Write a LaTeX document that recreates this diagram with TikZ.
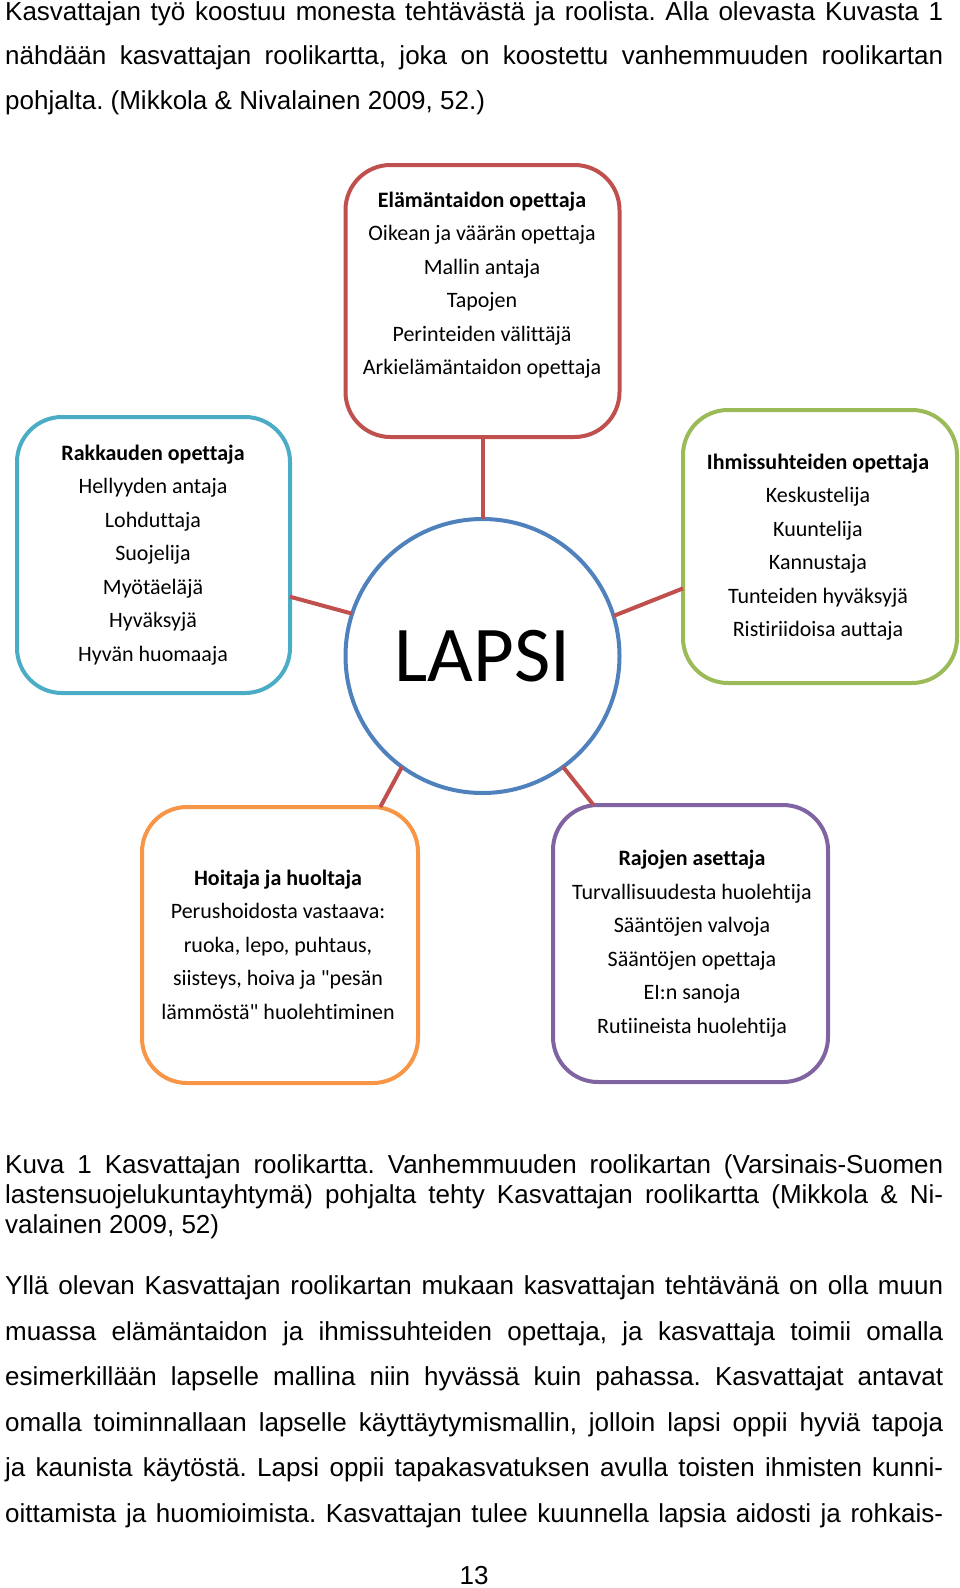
\documentclass[tikz,border=0pt]{standalone}
\usepackage{fontspec}
\setmainfont{Liberation Sans}
\newfontfamily\boxfont[Ligatures=NoCommon]{Carlito}
\definecolor{cred}{HTML}{C0504D}
\definecolor{cblue}{HTML}{4F81BD}
\definecolor{caqua}{HTML}{4BACC6}
\definecolor{cgreen}{HTML}{9BBB59}
\definecolor{corange}{HTML}{F79646}
\definecolor{cpurple}{HTML}{8064A2}
\newcommand{\jline}[1]{\makebox[938pt][s]{#1}}
\frenchspacing
\begin{document}
\begin{tikzpicture}[x=1pt,y=-1pt,
  rolebox/.style={draw, line width=4pt, rounded corners=45pt, inner sep=0pt, outer sep=0pt},
  roletext/.style={font=\boxfont\fontsize{22}{33.5}\selectfont, align=center, inner sep=0pt},
  conn/.style={draw=cred, line width=4pt},
  para/.style={anchor=base west, inner sep=0pt, font=\fontsize{26}{30}\selectfont}]
\useasboundingbox (0,0) rectangle (960,1588);
\fill[white] (0,0) rectangle (960,1588);

% boxes
\node[rolebox, draw=cred, minimum width=274pt, minimum height=272pt] (T) at (482.5,301) {};
\node[rolebox, draw=caqua, minimum width=273pt, minimum height=276pt] (L) at (153.5,555) {};
\node[rolebox, draw=cgreen, minimum width=274pt, minimum height=273pt] (R) at (820,546.5) {};
\node[rolebox, draw=corange, minimum width=276pt, minimum height=276pt] (BL) at (280,945) {};
\node[rolebox, draw=cpurple, minimum width=275pt, minimum height=277pt] (BR) at (690.5,943.5) {};
\node[circle, draw=cblue, line width=4pt, minimum size=274pt, inner sep=0pt, outer sep=0pt,
      font=\boxfont\fontsize{79}{90}\selectfont] (C) at (482.5,656) {LAPSI};

% connectors
\draw[conn] (T.south) -- (C.north);
\draw[conn] (C.162.7) -- (L.-17.9);
\draw[conn] (C.17.6) -- (R.197.4);
\draw[conn] (C.234.6) -- (BL.54.9);
\draw[conn] (C.306) -- (BR.125.8);

% box texts
\node[roletext] (Tt) at (482,285) {\textbf{Elämäntaidon opettaja}\\Oikean ja väärän opettaja\\Mallin antaja\\Tapojen\\Perinteiden välittäjä\\Arkielämäntaidon opettaja};
\node[roletext] (Lt) at (153,555) {\textbf{Rakkauden opettaja}\\Hellyyden antaja\\Lohduttaja\\Suojelija\\Myötäeläjä\\Hyväksyjä\\Hyvän huomaaja};
\node[roletext] (Rt) at (818,547) {\textbf{Ihmissuhteiden opettaja}\\Keskustelija\\Kuuntelija\\Kannustaja\\Tunteiden hyväksyjä\\Ristiriidoisa auttaja};
\node[roletext] (BLt) at (278,944.5) {\textbf{Hoitaja ja huoltaja}\\Perushoidosta vastaava:\\ruoka, lepo, puhtaus,\\siisteys, hoiva ja "pesän\\lämmöstä" huolehtiminen};
\node[roletext] (BRt) at (692,943.5) {\textbf{Rajojen asettaja}\\Turvallisuudesta huolehtija\\Sääntöjen valvoja\\Sääntöjen opettaja\\EI:n sanoja\\Rutiineista huolehtija};

% page text
\node[para] (a1) at (5,20) {\jline{Kasvattajan työ koostuu monesta tehtävästä ja roolista. Alla olevasta Kuvasta 1}};
\node[para] (a2) at (5,64.5) {\jline{nähdään kasvattajan roolikartta, joka on koostettu vanhemmuuden roolikartan}};
\node[para] (a3) at (5,109) {pohjalta. (Mikkola \& Nivalainen 2009, 52.)};

\node[para] (k1) at (5,1173) {\jline{Kuva 1 Kasvattajan roolikartta. Vanhemmuuden roolikartan (Varsinais-Suomen}};
\node[para] (k2) at (5,1203) {\jline{lastensuojelukuntayhtymä) pohjalta tehty Kasvattajan roolikartta (Mikkola \& Ni-}};
\node[para] (k3) at (5,1233) {valainen 2009, 52)};

\node[para] (b1) at (5,1294.5) {\jline{Yllä olevan Kasvattajan roolikartan mukaan kasvattajan tehtävänä on olla muun}};
\node[para] (b2) at (5,1340.1) {\jline{muassa elämäntaidon ja ihmissuhteiden opettaja, ja kasvattaja toimii omalla}};
\node[para] (b3) at (5,1385.7) {\jline{esimerkillään lapselle mallina niin hyvässä kuin pahassa. Kasvattajat antavat}};
\node[para] (b4) at (5,1431.3) {\jline{omalla toiminnallaan lapselle käyttäytymismallin, jolloin lapsi oppii hyviä tapoja}};
\node[para] (b5) at (5,1476.9) {\jline{ja kaunista käytöstä. Lapsi oppii tapakasvatuksen avulla toisten ihmisten kunni-}};
\node[para] (b6) at (5,1522.5) {\jline{oittamista ja huomioimista. Kasvattajan tulee kuunnella lapsia aidosti ja rohkais-}};

\node[para, anchor=base] (pg) at (474,1584) {13};
\end{tikzpicture}
\end{document}
